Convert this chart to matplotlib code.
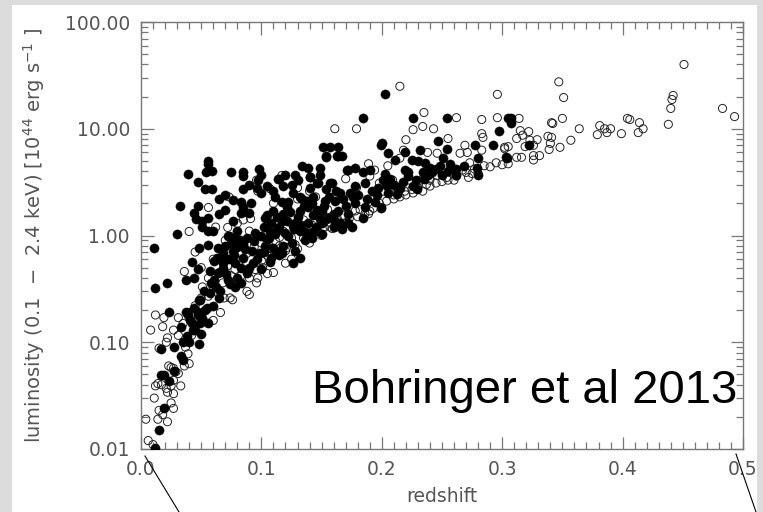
import matplotlib
matplotlib.use("Agg")
import matplotlib.pyplot as plt
from matplotlib.lines import Line2D
from matplotlib.patches import Rectangle
from matplotlib.ticker import MultipleLocator, LogLocator, FormatStrFormatter, FixedLocator, NullFormatter

# filled circles: redshift, luminosity [1e44 erg/s]
z_filled = [
    0.056, 0.056, 0.039, 0.054, 0.059, 0.075, 0.085, 0.085, 0.047, 0.053, 0.059, 0.090, 0.096, 0.097, 0.085,
    0.032, 0.047, 0.044, 0.046, 0.051, 0.056, 0.076, 0.076, 0.083, 0.085, 0.083, 0.091, 0.090, 0.030, 0.011,
    0.051, 0.056, 0.060, 0.073, 0.080, 0.048, 0.056, 0.064, 0.068, 0.042, 0.047, 0.044, 0.037, 0.022, 0.012,
    0.061, 0.069, 0.077,
    0.023, 0.033, 0.042, 0.043, 0.037, 0.044, 0.048, 0.056, 0.051, 0.027, 0.017, 0.040, 0.048, 0.035, 0.033,
    0.035, 0.027, 0.017, 0.019, 0.023, 0.019, 0.015, 0.012, 0.039, 0.047,
    0.098, 0.115, 0.120, 0.134, 0.139, 0.149, 0.154, 0.157, 0.164, 0.171, 0.157, 0.146, 0.140, 0.126, 0.132,
    0.138, 0.117, 0.121, 0.110, 0.105, 0.132, 0.143, 0.149, 0.160, 0.165, 0.121, 0.126, 0.115, 0.107, 0.132,
    0.138, 0.143, 0.105, 0.110, 0.099, 0.115, 0.107, 0.085, 0.076, 0.085, 0.090, 0.071, 0.074, 0.066, 0.080,
    0.057, 0.049, 0.055, 0.047, 0.041, 0.049, 0.063, 0.068, 0.057, 0.061, 0.132, 0.126,
    0.184, 0.151, 0.154, 0.164, 0.163, 0.167, 0.199, 0.114, 0.128, 0.140, 0.149, 0.140, 0.147, 0.154, 0.159,
    0.172, 0.178, 0.184, 0.190, 0.165, 0.174, 0.178, 0.186, 0.192, 0.197, 0.201, 0.134, 0.143, 0.153, 0.161,
    0.178, 0.186, 0.194, 0.100, 0.111, 0.122, 0.139, 0.150, 0.164, 0.172, 0.184, 0.103, 0.117, 0.128, 0.139,
    0.150, 0.161, 0.172, 0.111, 0.122, 0.136, 0.150, 0.167, 0.175,
    0.203, 0.226, 0.254, 0.305, 0.297, 0.247, 0.232, 0.219, 0.200, 0.205, 0.211, 0.225, 0.230, 0.236, 0.251,
    0.254, 0.277, 0.292, 0.280, 0.304, 0.262, 0.257, 0.248, 0.240, 0.279, 0.280, 0.219, 0.222, 0.234, 0.238,
    0.250, 0.203, 0.207, 0.204, 0.215, 0.226, 0.229,
    0.307, 0.307, 0.322, 0.303,
    0.103, 0.117, 0.128, 0.142, 0.136, 0.100, 0.199,
    0.072, 0.078, 0.082, 0.088, 0.094, 0.070, 0.075, 0.080, 0.086, 0.092, 0.096, 0.093, 0.088, 0.083, 0.078,
    0.073, 0.068, 0.064, 0.072, 0.078, 0.083, 0.062, 0.058, 0.052, 0.065, 0.060, 0.053, 0.045, 0.050, 0.038,
    0.102, 0.108, 0.113, 0.118, 0.124, 0.130, 0.135, 0.142, 0.146, 0.152, 0.156, 0.162, 0.168, 0.170, 0.176,
    0.180, 0.188, 0.196, 0.205, 0.210, 0.213, 0.218, 0.222, 0.228, 0.235, 0.242, 0.245, 0.255, 0.262, 0.268,
    0.125, 0.118, 0.112, 0.108, 0.102, 0.095, 0.100, 0.106, 0.113, 0.120, 0.127, 0.133, 0.145, 0.155, 0.160,
    0.065, 0.070, 0.065, 0.070, 0.100, 0.105, 0.110, 0.118, 0.125, 0.130,
]
lum_filled = [
    5.0, 4.7, 3.8, 3.9, 4.0, 3.9, 3.9, 3.6, 3.2, 2.75, 2.75, 3.0, 2.8, 3.3, 2.75,
    1.87, 1.9, 1.64, 1.44, 1.38, 1.47, 2.13, 1.38, 2.04, 1.83, 1.61, 2.0, 1.64, 1.04, 0.76,
    1.19, 1.11, 1.11, 1.0, 1.11, 0.77, 0.81, 0.76, 0.68, 0.56, 0.49, 0.40, 0.38, 0.36, 0.32,
    0.58, 0.61, 0.65,
    0.19, 0.14, 0.15, 0.13, 0.19, 0.21, 0.25, 0.15, 0.17, 0.09, 0.087, 0.10, 0.097, 0.10, 0.074,
    0.068, 0.054, 0.049, 0.049, 0.043, 0.024, 0.015, 0.0103, 0.18, 0.18,
    4.2, 3.4, 3.65, 4.5, 4.3, 4.3, 5.4, 6.7, 5.6, 4.1, 3.1, 3.1, 3.5, 2.5, 2.3,
    2.1, 2.04, 1.83, 1.7, 1.54, 1.7, 1.54, 1.44, 1.6, 1.3, 1.38, 1.24, 1.19, 1.07, 1.11,
    0.96, 1.07, 0.9, 0.77, 0.69, 0.65, 0.56, 0.84, 0.72, 0.62, 0.5, 0.44, 0.35, 0.30, 0.40,
    0.29, 0.25, 0.21, 0.19, 0.16, 0.15, 0.62, 0.55, 0.47, 0.38, 0.62, 0.55,
    12.7, 6.7, 5.6, 6.8, 5.6, 5.5, 7.1, 3.4, 3.65, 3.5, 3.65, 2.8, 3.1, 2.75, 3.1,
    4.1, 4.3, 3.9, 4.1, 2.5, 2.5, 2.9, 3.1, 2.6, 2.8, 3.3, 2.2, 2.3, 2.1, 2.1,
    2.0, 1.83, 2.04, 2.5, 2.3, 2.04, 1.83, 1.7, 1.7, 1.6, 1.47, 1.47, 1.38, 1.3, 1.3,
    1.3, 1.38, 1.3, 1.04, 1.0, 1.07, 1.04, 1.16, 1.19,
    21.0, 12.5, 12.7, 12.5, 9.6, 7.6, 6.3, 6.1, 7.3, 5.9, 5.1, 5.1, 5.0, 4.8, 5.3,
    6.4, 7.0, 7.1, 5.3, 5.3, 4.2, 4.7, 4.5, 4.3, 4.3, 3.65, 4.15, 3.9, 3.9, 3.65,
    3.65, 3.8, 3.4, 2.9, 2.8, 2.9, 2.75,
    12.5, 11.4, 7.0, 5.4,
    0.8, 0.69, 0.72, 0.94, 0.9, 0.49, 1.8,
    1.0, 0.95, 0.9, 0.95, 0.88, 0.8, 0.85, 0.78, 0.75, 0.72, 0.6, 0.55, 0.45, 0.5, 0.55,
    0.6, 0.5, 0.45, 0.38, 0.33, 0.36, 0.33, 0.36, 0.3, 0.26, 0.22, 0.2, 0.13, 0.12, 0.115,
    1.2, 1.3, 1.5, 1.6, 1.65, 1.5, 1.9, 2.0, 1.75, 1.9, 2.3, 2.6, 2.2, 1.9, 2.3,
    2.4, 2.2, 2.4, 2.5, 3.0, 2.45, 3.2, 3.6, 3.3, 3.4, 3.9, 4.2, 4.0, 3.7, 4.5,
    0.85, 0.8, 0.72, 0.62, 0.7, 1.05, 1.0, 0.95, 1.15, 1.05, 1.15, 1.25, 1.2, 1.45, 1.2,
    1.6, 1.75, 2.2, 2.4, 3.7, 2.9, 2.6, 2.9, 3.0, 3.3,
]

# open circles
z_open = [
    0.073, 0.056, 0.040, 0.036, 0.072, 0.091, 0.097, 0.051, 0.056,
    0.012, 0.019, 0.008, 0.018, 0.027, 0.022, 0.031, 0.021, 0.015, 0.039, 0.040, 0.036, 0.025, 0.029, 0.014,
    0.012, 0.017, 0.021, 0.022, 0.027, 0.025, 0.011, 0.025, 0.027, 0.015, 0.018, 0.004, 0.014, 0.022, 0.006,
    0.010, 0.031, 0.035, 0.040, 0.033, 0.031, 0.027, 0.023, 0.027, 0.037, 0.042, 0.056, 0.064, 0.069,
    0.161, 0.117, 0.096, 0.130, 0.130, 0.160, 0.157, 0.160, 0.121, 0.130, 0.115, 0.105, 0.096, 0.101, 0.076,
    0.074, 0.088, 0.066, 0.060,
    0.179, 0.107, 0.179, 0.189, 0.194, 0.198, 0.145, 0.161, 0.159, 0.178, 0.189, 0.200,
    0.215, 0.296, 0.235, 0.262, 0.283, 0.296, 0.226, 0.234, 0.243, 0.220, 0.255, 0.283, 0.284, 0.269, 0.271,
    0.283, 0.302, 0.265, 0.238, 0.246, 0.218, 0.215, 0.273, 0.267, 0.275, 0.272, 0.258, 0.254, 0.246, 0.240,
    0.232, 0.223, 0.209, 0.213, 0.201, 0.219, 0.226, 0.234,
    0.451, 0.347, 0.351, 0.442, 0.441, 0.440, 0.483, 0.493, 0.314, 0.341, 0.342, 0.350, 0.404, 0.406, 0.414,
    0.417, 0.413, 0.438, 0.381, 0.385, 0.387, 0.390, 0.379, 0.399, 0.364, 0.357, 0.348, 0.315, 0.322, 0.317,
    0.312, 0.323, 0.329, 0.319, 0.326, 0.338, 0.341, 0.340, 0.339, 0.326, 0.331, 0.326, 0.312, 0.316, 0.305,
    0.302, 0.305,
    0.125, 0.097,
    0.09, 0.11, 0.12, 0.14, 0.15, 0.17, 0.18, 0.19, 0.21, 0.22, 0.24, 0.26, 0.28, 0.29, 0.30,
    0.065, 0.072, 0.078, 0.082, 0.088, 0.094, 0.100, 0.105, 0.112, 0.118, 0.125, 0.130, 0.135, 0.142, 0.148,
    0.155, 0.070, 0.080, 0.062, 0.090,
    0.045, 0.050, 0.060, 0.068, 0.075, 0.083, 0.090, 0.095, 0.100, 0.108, 0.115, 0.120, 0.128, 0.135, 0.140,
    0.147, 0.152, 0.158, 0.163, 0.168, 0.173, 0.182, 0.186, 0.193, 0.198, 0.204, 0.210, 0.215, 0.225, 0.230,
    0.237, 0.245, 0.250, 0.255, 0.262, 0.270, 0.277, 0.285, 0.295, 0.110, 0.140, 0.170, 0.190, 0.205, 0.085,
    0.060, 0.050, 0.045,
]
lum_open = [
    2.3, 1.83, 1.09, 0.46, 1.19, 1.44, 2.6, 0.33, 0.40,
    0.18, 0.17, 0.13, 0.14, 0.13, 0.11, 0.116, 0.10, 0.088, 0.078, 0.063, 0.060, 0.058, 0.053, 0.041,
    0.039, 0.040, 0.037, 0.034, 0.033, 0.039, 0.030, 0.027, 0.024, 0.023, 0.021, 0.019, 0.019, 0.018, 0.012,
    0.011, 0.17, 0.15, 0.19, 0.039, 0.051, 0.044, 0.060, 0.057, 0.090, 0.116, 0.27, 0.29, 0.26,
    10.0, 3.65, 3.3, 2.8, 2.2, 2.3, 1.2, 1.54, 0.77, 0.75, 0.96, 0.44, 0.36, 0.50, 0.25,
    0.26, 0.30, 0.19, 0.16,
    10.0, 2.75, 2.8, 4.7, 4.1, 3.1, 2.3, 1.19, 1.16, 1.7, 1.6, 1.83,
    25.0, 21.0, 14.2, 12.7, 12.2, 12.7, 9.8, 10.5, 10.0, 7.9, 8.1, 9.0, 8.3, 7.0, 6.0,
    6.3, 6.5, 5.9, 6.0, 5.9, 6.3, 5.3, 4.8, 4.1, 3.8, 3.5, 4.1, 3.5, 3.65, 3.3,
    3.3, 3.3, 3.3, 2.8, 2.6, 2.6, 2.5, 2.6,
    40.0, 27.5, 19.6, 20.5, 18.8, 15.5, 15.5, 13.0, 12.5, 11.4, 11.2, 12.5, 12.5, 12.2, 11.4,
    10.0, 9.2, 11.0, 10.7, 10.0, 9.2, 10.0, 8.8, 9.0, 10.0, 7.8, 6.7, 9.6, 9.4, 8.7,
    8.1, 7.8, 7.9, 6.8, 7.0, 8.5, 8.3, 7.3, 6.4, 5.6, 5.6, 5.1, 5.4, 5.4, 4.7,
    6.7, 6.8,
    0.60, 0.40,
    0.28, 0.45, 0.55, 0.85, 1.0, 1.3, 1.5, 1.7, 2.2, 2.4, 2.9, 3.3, 3.8, 4.4, 4.6,
    0.45, 0.52, 0.48, 0.58, 0.68, 0.78, 0.85, 0.65, 0.88, 1.1, 0.95, 1.2, 1.4, 1.25, 1.55,
    1.75, 0.9, 1.3, 1.2, 1.1,
    0.22, 0.26, 0.33, 0.36, 0.42, 0.42, 0.40, 0.48, 0.58, 0.75, 0.80, 0.72, 0.82, 0.95, 1.05,
    1.1, 1.2, 1.3, 1.45, 1.55, 1.45, 1.75, 1.6, 1.8, 2.0, 2.1, 2.4, 2.3, 2.7, 2.8,
    3.0, 3.1, 3.2, 3.3, 3.6, 3.9, 4.2, 4.5, 4.8, 2.0, 2.6, 3.4, 3.6, 4.5, 1.4,
    0.6, 0.5, 0.7,
]

fig = plt.figure(figsize=(7.63, 5.12), dpi=100)
fig.patch.set_facecolor("#dcdcdc")
# white slide panel behind the plot
fig.add_artist(Rectangle((12 / 763, 0), 745 / 763, 1 - 5 / 512, transform=fig.transFigure,
                         facecolor="white", edgecolor="none", zorder=-5))

ax = fig.add_axes([141 / 763, 1 - 449 / 512, 602 / 763, 427 / 512])
ax.set_facecolor("white")

ax.scatter(z_open, lum_open, s=34, facecolors="none", edgecolors="#222222", linewidths=0.7, zorder=2)
ax.scatter(z_filled, lum_filled, s=44, c="black", edgecolors="black", linewidths=0.3, zorder=3)

ax.set_yscale("log")
ax.set_xlim(0, 0.5)
ax.set_ylim(0.01, 100)

grey = "#555555"
ax.xaxis.set_major_locator(MultipleLocator(0.1))
ax.xaxis.set_minor_locator(MultipleLocator(0.01))
ax.xaxis.set_major_formatter(FormatStrFormatter("%.1f"))
ax.yaxis.set_major_locator(FixedLocator([0.01, 0.1, 1, 10, 100]))
ax.yaxis.set_minor_locator(LogLocator(base=10, subs=range(2, 10), numticks=20))
ax.yaxis.set_major_formatter(FormatStrFormatter("%.2f"))
ax.yaxis.set_minor_formatter(NullFormatter())

ax.tick_params(which="both", direction="in", top=True, right=True, colors="#777777", width=0.9,
               labelcolor=grey, labelsize=13.5)
ax.tick_params(which="major", length=9, pad=8)
ax.tick_params(which="minor", length=5)
for sp in ax.spines.values():
    sp.set_color("#777777")
    sp.set_linewidth(1.0)

ax.set_xlabel("redshift", fontsize=13.5, color=grey)
ax.xaxis.set_label_coords(0.5, -0.088)
ax.set_ylabel("luminosity (0.1  $-$  2.4 keV) [10$^{44}$ erg s$^{-1}$ ]", fontsize=14, color=grey)
ax.yaxis.set_label_coords(-0.156, 0.5)

ax.text(0.99, 0.108, "Bohringer et al 2013", transform=ax.transAxes, ha="right", va="baseline",
        fontsize=34, family="Liberation Sans", color="black", zorder=5)

# zoom lines of the slide
fig.add_artist(Line2D([145 / 763, 179 / 763], [1 - 456 / 512, 0], color="black", lw=0.8))
fig.add_artist(Line2D([736 / 763, 756 / 763], [1 - 454 / 512, 0], color="black", lw=0.8))

fig.savefig("out.png", dpi=100, facecolor=fig.get_facecolor())
